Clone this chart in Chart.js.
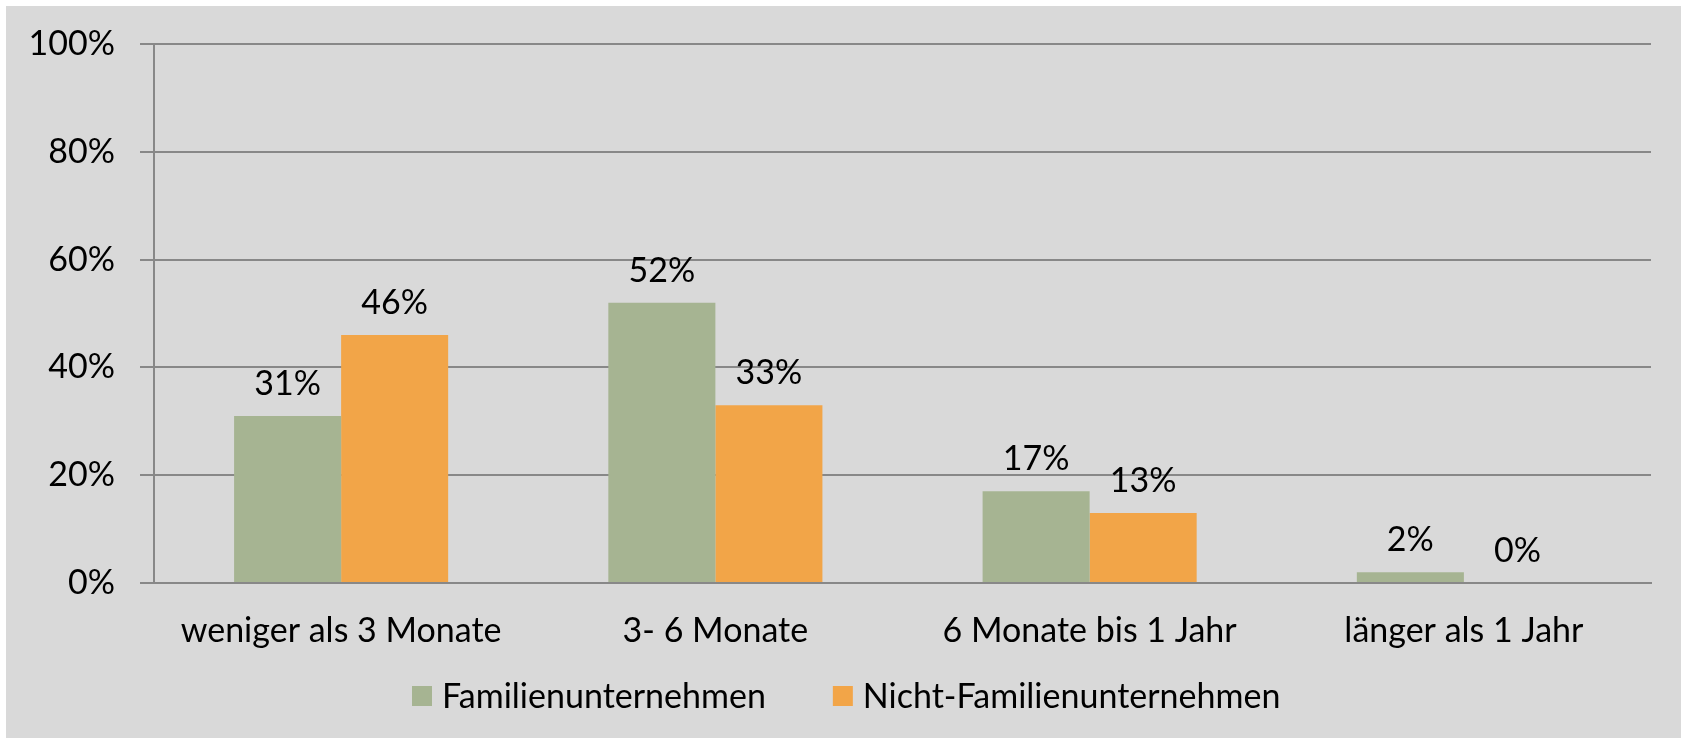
<!DOCTYPE html>
<html>
<head>
<meta charset="utf-8">
<script src="https://cdn.jsdelivr.net/npm/chart.js@4"></script>
<style>
  html, body { margin: 0; padding: 0; background: #ffffff; }
  #wrap { position: absolute; left: 6px; top: 6px; width: 1675px; height: 732px; background: #d9d9d9; }
  canvas { display: block; }
</style>
</head>
<body>
<div id="wrap"><canvas id="chart"></canvas></div>
<script>
// Dauer bis zur Umsetzung – Anteil der Unternehmen
const categories = ['weniger als 3 Monate', '3- 6 Monate', '6 Monate bis 1 Jahr', 'länger als 1 Jahr'];
const seriesNames = ['Familienunternehmen', 'Nicht-Familienunternehmen'];
const familienValues = [31, 52, 17, 2];
const nichtFamilienValues = [46, 33, 13, 0];
const yTicks = [0, 20, 40, 60, 80, 100];

const GREEN = '#a6b492';
const ORANGE = '#f2a548';
const GRID = '#888888';
const FONT = 'Lato, "Open Sans", sans-serif';
const FONT_SIZE = 34;

// value labels above each bar
const valueLabels = {
  id: 'valueLabels',
  afterDatasetsDraw(chart) {
    const ctx = chart.ctx;
    ctx.save();
    ctx.font = FONT_SIZE + 'px ' + FONT;
    ctx.fillStyle = '#000000';
    ctx.textAlign = 'center';
    ctx.textBaseline = 'alphabetic';
    chart.data.datasets.forEach((ds, di) => {
      const meta = chart.getDatasetMeta(di);
      meta.data.forEach((bar, i) => {
        ctx.fillText(ds.data[i] + '%', bar.x, bar.y - 21);
      });
    });
    ctx.restore();
  }
};

// legend row below the axis
const legendRow = {
  id: 'legendRow',
  afterDraw(chart) {
    const ctx = chart.ctx;
    ctx.save();
    ctx.font = FONT_SIZE + 'px ' + FONT;
    ctx.textBaseline = 'middle';
    ctx.textAlign = 'left';
    const y = 690;
    let x = 406;
    chart.data.datasets.forEach((ds) => {
      ctx.fillStyle = ds.backgroundColor;
      ctx.fillRect(x, y - 10, 20, 20);
      ctx.fillStyle = '#000000';
      ctx.fillText(ds.label, x + 30, y + 1);
      x += 30 + ctx.measureText(ds.label).width + 67;
    });
    ctx.restore();
  }
};

new Chart(document.getElementById('chart'), {
  type: 'bar',
  data: {
    labels: categories,
    datasets: [
      { label: seriesNames[0], data: familienValues, backgroundColor: GREEN },
      { label: seriesNames[1], data: nichtFamilienValues, backgroundColor: ORANGE }
    ]
  },
  options: {
    responsive: true,
    maintainAspectRatio: false,
    animation: false,
    devicePixelRatio: 1,
    categoryPercentage: 0.572,
    barPercentage: 1,
    layout: { padding: { left: 0, right: 30, top: 38, bottom: 0 } },
    plugins: {
      legend: { display: false },
      tooltip: { enabled: false }
    },
    scales: {
      x: {
        grid: { display: false, drawTicks: false },
        border: { display: true, color: GRID, width: 2 },
        ticks: {
          color: '#000000',
          font: { family: FONT, size: FONT_SIZE },
          padding: 28,
          maxRotation: 0,
          autoSkip: false
        },
        afterFit(scale) { scale.height = 155; }
      },
      y: {
        min: 0,
        max: 100,
        afterBuildTicks(scale) { scale.ticks = yTicks.map(v => ({ value: v })); },
        grid: { color: GRID, lineWidth: 2, tickLength: 14, drawTicks: true },
        border: { display: true, color: GRID, width: 2 },
        ticks: {
          color: '#000000',
          font: { family: FONT, size: FONT_SIZE },
          padding: 25,
          callback: (v) => v + '%'
        },
        afterFit(scale) {
          scale.width = 148;
          scale.paddingTop = 0;
          scale.paddingBottom = 0;
        }
      }
    }
  },
  plugins: [valueLabels, legendRow]
});
</script>
</body>
</html>
